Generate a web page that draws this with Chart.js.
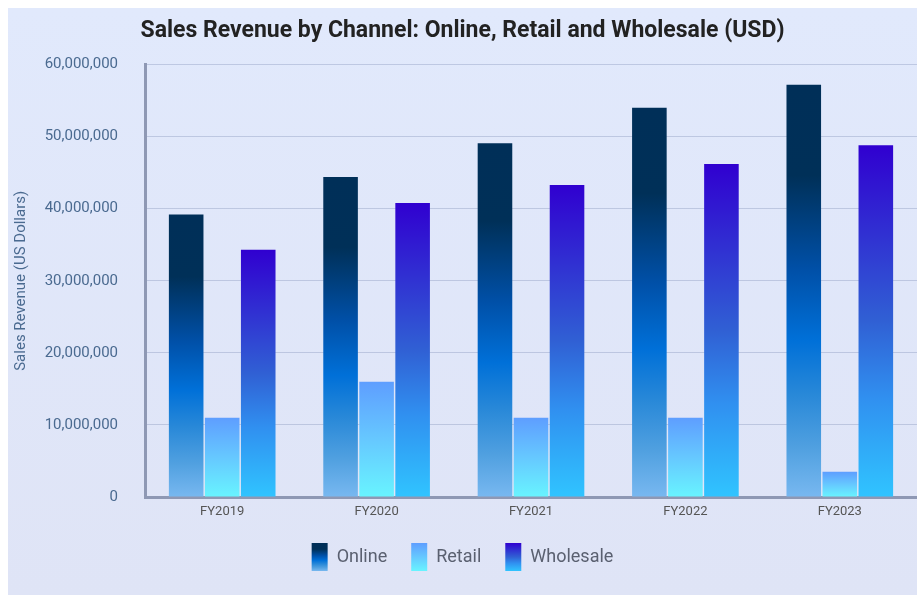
<!DOCTYPE html>
<html>
<head>
<meta charset="utf-8">
<title>Sales Revenue by Channel</title>
<script src="https://cdn.jsdelivr.net/npm/chart.js@4.4.0/dist/chart.umd.min.js"></script>
<style>
  html, body { margin: 0; background: #fff; overflow: hidden; }
  #wrap {
    position: absolute; left: 8px; top: 8px;
    width: 909px; height: 587px; overflow: hidden;
    background: linear-gradient(#e1e9fc, #dfe4f6);
  }
</style>
</head>
<body>
<div id="wrap"><canvas id="revenueChart" width="909" height="587"></canvas></div>
<script>
// fiscal years and revenue per channel (USD)
var years = ['FY2019', 'FY2020', 'FY2021', 'FY2022', 'FY2023'];
var online = [39200000, 44400000, 49100000, 54000000, 57200000];
var retail = [11000000, 16000000, 11000000, 11000000, 3500000];
var wholesale = [34300000, 40800000, 43300000, 46200000, 48800000];
var yMax = 60000000;
var yStep = 10000000;

// colour stops, top of bar -> base
var onlineStops = [[0, '#002f58'], [0.22, '#003058'], [0.45, '#0050a8'], [0.62, '#0070d8'], [0.75, '#2888d8'], [0.88, '#50a0e0'], [1, '#78b8f0']];
var retailStops = [[0, '#5e9eff'], [0.5, '#66c8ff'], [1, '#68f4ff']];
var wholesaleStops = [[0, '#3000d0'], [0.5, '#3060d4'], [0.72, '#3090f0'], [1, '#30c4ff']];

function makeGradient(ctx, top, bottom, stops) {
    var g = ctx.createLinearGradient(0, top, 0, bottom);
    stops.forEach(function (s) { g.addColorStop(s[0], s[1]); });
    return g;
}

// each bar gets its own gradient from its top down to zero
function barGradient(stops) {
    return function (context) {
        var chart = context.chart;
        var y = chart.scales.y;
        if (!chart.chartArea || !y || context.raw == null) return stops[0][1];
        return makeGradient(chart.ctx, y.getPixelForValue(context.raw), y.getPixelForValue(0), stops);
    };
}

var allStops = [onlineStops, retailStops, wholesaleStops];

// legend boxes get the same colour ramp as the bars
var legendGradients = {
    id: 'legendGradients',
    beforeDraw: function (chart) {
        var legend = chart.legend;
        if (!legend || !legend.legendItems) return;
        legend.legendItems.forEach(function (item, i) {
            var box = legend.legendHitBoxes[i];
            if (!box) return;
            item.fillStyle = makeGradient(chart.ctx, box.top, box.top + box.height, allStops[item.datasetIndex]);
        });
    }
};

Chart.defaults.font.family = 'Roboto, Arial, sans-serif';

var ctx = document.getElementById('revenueChart').getContext('2d');
var chart = new Chart(ctx, {
    type: 'bar',
    data: {
        labels: years,
        datasets: [
            { label: 'Online', data: online, backgroundColor: barGradient(onlineStops) },
            { label: 'Retail', data: retail, backgroundColor: barGradient(retailStops) },
            { label: 'Wholesale', data: wholesale, backgroundColor: barGradient(wholesaleStops) }
        ]
    },
    options: {
        responsive: false,
        animation: false,
        categoryPercentage: 0.7,
        barPercentage: 0.96,
        layout: { padding: { left: 0, right: 0, bottom: 14 } },
        plugins: {
            title: {
                display: true,
                text: 'Sales Revenue by Channel: Online, Retail and Wholesale (USD)',
                color: '#222',
                font: { size: 23, weight: 'bold' },
                padding: { top: 9, bottom: 20 }
            },
            legend: {
                position: 'bottom',
                labels: {
                    boxWidth: 16,
                    boxHeight: 28,
                    padding: 24,
                    color: '#5a6070',
                    font: { size: 18 }
                }
            },
            tooltip: { enabled: false }
        },
        scales: {
            x: {
                grid: { display: false, drawTicks: false },
                border: { display: true, color: '#8e98b4', width: 3 },
                ticks: { color: '#555', font: { size: 13 }, padding: 7 },
                // no extra gap under the year labels
                afterFit: function (scale) { scale.height = 22; }
            },
            y: {
                min: 0,
                max: yMax,
                ticks: {
                    stepSize: yStep,
                    color: '#4a6a90',
                    font: { size: 15 },
                    padding: 27
                },
                grid: { color: 'rgba(110, 125, 170, 0.3)', drawTicks: false },
                border: { display: true, color: '#8e98b4', width: 3 },
                title: {
                    display: true,
                    text: 'Sales Revenue (US Dollars)',
                    color: '#4a6a90',
                    font: { size: 15 },
                    padding: { top: 4, bottom: 0 }
                },
                // fixed gutter for the axis title and tick labels
                afterFit: function (scale) { scale.width = 137; }
            }
        }
    },
    plugins: [legendGradients]
});
</script>
</body>
</html>
